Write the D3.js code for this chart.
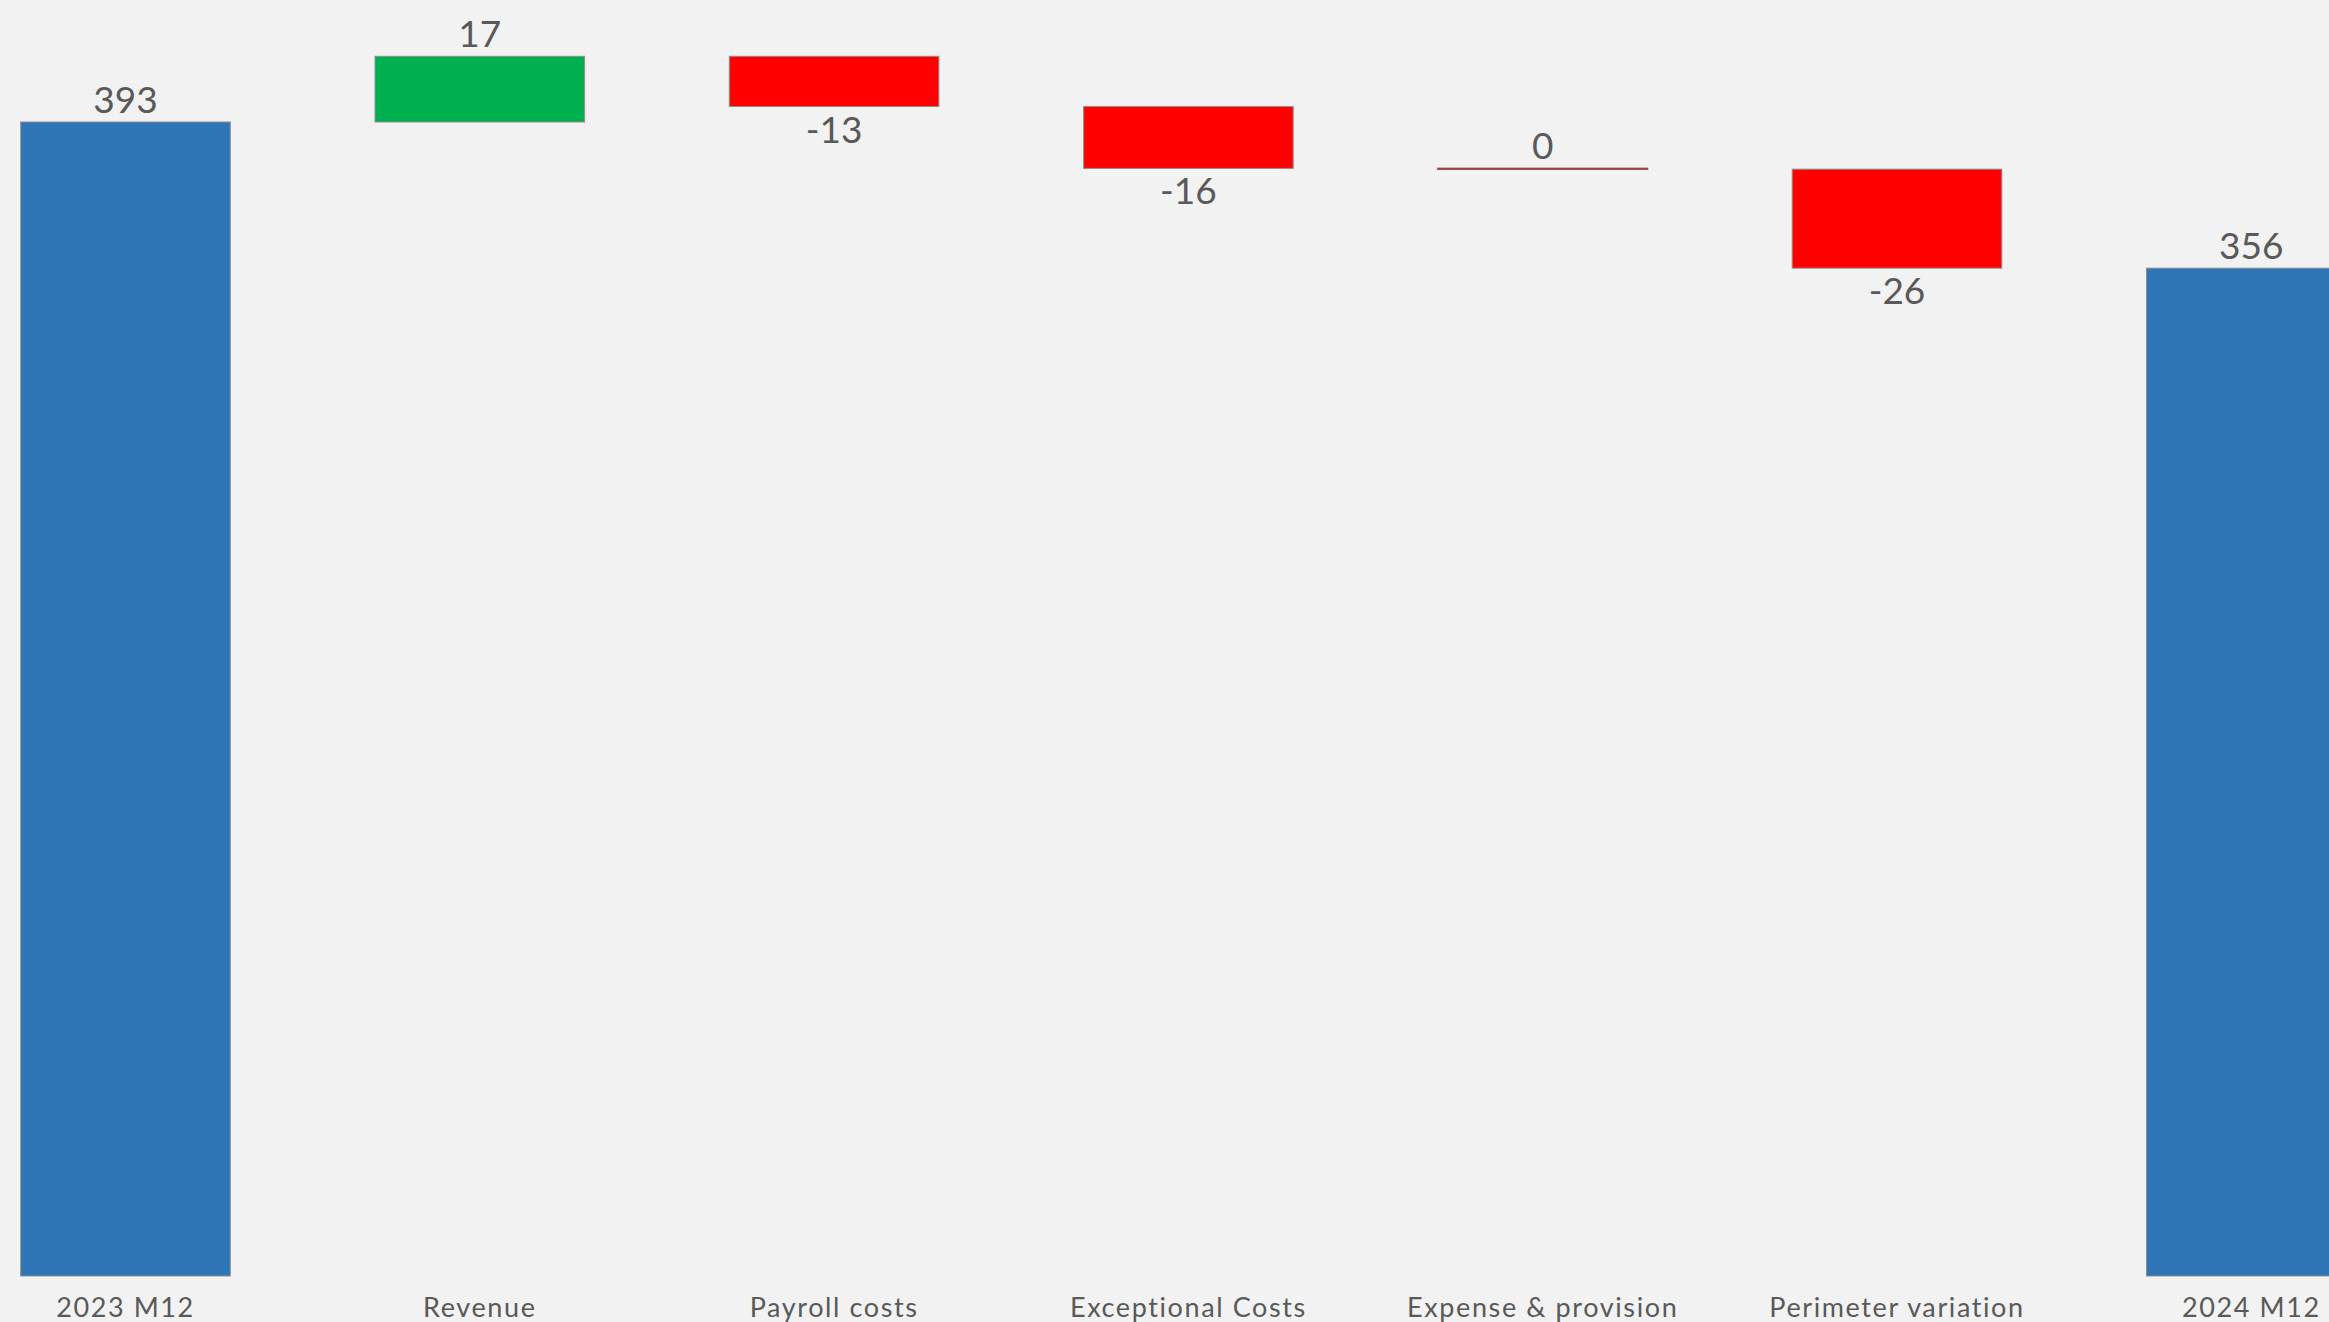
<!DOCTYPE html>
<html>
<head>
<meta charset="utf-8">
<script src="https://cdn.jsdelivr.net/npm/d3@7"></script>
<style>
  html, body { margin: 0; padding: 0; background: #f2f2f2; overflow: hidden; }
  svg { display: block; }
  text { font-family: Lato, "Open Sans", sans-serif; }
</style>
</head>
<body>
<svg id="chart" width="2329" height="1322"></svg>
<script>
// ---- data ----
const categories = ["2023 M12", "Revenue", "Payroll costs", "Exceptional Costs", "Expense & provision", "Perimeter variation", "2024 M12"];
const values = [393.45, 17.0, -13.0, -16.0, -0.2, -25.6, 355.65];
const kinds = ["total", "delta", "delta", "delta", "delta", "delta", "total"];
const yDomain = [95, 425];

// ---- layout ----
const W = 2329, H = 1322;
const plotBottom = 1276;
const svg = d3.select("#chart");
svg.append("rect").attr("width", W).attr("height", H).attr("fill", "#f2f2f2");

const step = 354.3;
const padIn = 0.4084;
const x = d3.scaleBand()
  .domain(categories)
  .range([20.7 - step * padIn / 2, 20.7 - step * padIn / 2 + step * categories.length])
  .paddingInner(padIn)
  .paddingOuter(padIn / 2);

const y = d3.scaleLinear().domain(yDomain).range([plotBottom, 0]);

// running waterfall
let run = 0;
const bars = categories.map((c, i) => {
  const v = values[i];
  let lo, hi, color;
  if (kinds[i] === "total") {
    run = v;
    lo = yDomain[0]; hi = v; color = "#2E75B6";
  } else {
    const start = run;
    run = run + v;
    lo = Math.min(start, run); hi = Math.max(start, run);
    color = v > 0 ? "#00B050" : "#FF0000";
  }
  return { c, v, lo, hi, color, kind: kinds[i] };
});

const g = svg.append("g");
g.selectAll("rect.bar").data(bars).join("rect")
  .attr("class", "bar")
  .attr("x", d => x(d.c))
  .attr("width", x.bandwidth())
  .attr("y", d => y(d.hi))
  .attr("height", d => y(d.lo) - y(d.hi))
  .attr("fill", d => d.color)
  .attr("stroke", d => Math.abs(d.v) < 0.5 ? "#9a4545" : "#8f8f8f")
  .attr("stroke-width", d => Math.abs(d.v) < 0.5 ? 1.5 : 1);

// data labels
const fmt = v => String(Math.round(v) === 0 ? 0 : Math.round(v));
g.selectAll("text.lbl").data(bars).join("text")
  .attr("class", "lbl")
  .attr("x", d => x(d.c) + x.bandwidth() / 2)
  .attr("y", d => {
    const below = d.kind === "delta" && Math.round(d.v) < 0;
    return below ? y(d.lo) + 36 : y(d.hi) - 9;
  })
  .attr("text-anchor", "middle")
  .attr("font-size", 37)
  .attr("fill", "#595959")
  .text(d => fmt(d.v));

// x axis
const axis = svg.append("g")
  .attr("transform", `translate(0,${plotBottom})`)
  .call(d3.axisBottom(x).tickSize(0));
axis.select(".domain").remove();
axis.selectAll("text")
  .attr("y", 41)
  .attr("dy", 0)
  .attr("font-size", 27)
  .attr("letter-spacing", 1.6)
  .attr("font-family", "Lato, 'Open Sans', sans-serif")
  .attr("fill", "#595959");
</script>
</body>
</html>
